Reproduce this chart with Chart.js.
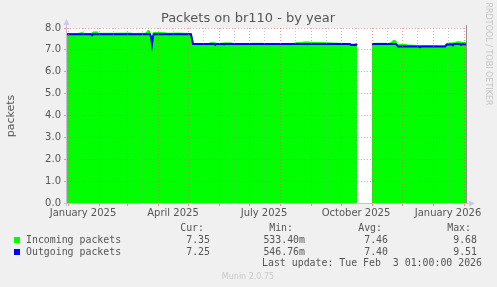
<!DOCTYPE html>
<html lang="en">
  <head>
    <meta charset="UTF-8" />
    <title>Packets on br110 - by year</title>
    <script src="https://cdn.jsdelivr.net/npm/chart.js"></script>
    <style>
      html, body { margin: 0; padding: 0; background: #f0f0f0; }
      #chart { display: block; }
    </style>
  </head>
  <body>
    <canvas id="chart" width="497" height="287"></canvas>
    <script>
      // x values are days since 1 January 2025
      const monthStarts = [0, 31, 59, 90, 120, 151, 181, 212, 243, 273, 304, 334, 365, 396];
      const midMonths = [15, 45, 74, 105, 135, 166, 196, 227, 258, 288, 319, 349, 380];
      const xLabels = { 15: "January 2025", 105: "April 2025", 196: "July 2025", 288: "October 2025", 380: "January 2026" };

      const inDays = [-1, 10, 14, 16, 24, 25, 29, 30, 45, 62, 65, 78, 80, 82, 83, 84, 85, 87, 97, 100, 110, 123, 125, 126,
        140, 143, 147, 148, 157, 164, 165, 187, 195, 196, 200, 225, 228, 233, 236, 240, 250, 255, 272, 275, 282, 288, 289, 290,
        304, 322, 324, 326, 328, 329, 331, 336, 340, 352, 376, 379, 383, 386, 389, 393, 395, 398];
      const inValues = [7.75, 7.75, 7.79, 7.75, 7.75, 7.82, 7.82, 7.76, 7.76, 7.77, 7.75, 7.76, 7.9, 7.82, 7.3, 7.55, 7.78, 7.8, 7.78, 7.76, 7.77, 7.75, 7.3, 7.28,
        7.28, 7.33, 7.33, 7.28, 7.32, 7.32, 7.28, 7.3, 7.3, 7.28, 7.28, 7.28, 7.33, 7.33, 7.36, 7.36, 7.33, 7.33, 7.3, 7.3, 7.25, 7.28, 7.28, null,
        7.3, 7.3, 7.38, 7.45, 7.4, 7.22, 7.25, 7.25, 7.22, 7.2, 7.18, 7.3, 7.32, 7.32, 7.37, 7.36, 7.33, 7.35];

      const outDays = [-1, 23, 24, 25, 82, 83, 84, 85, 86, 123, 125, 146, 147, 148, 155, 156, 157, 282, 283, 288, 289, 290,
        304, 328, 330, 351, 352, 353, 377, 379, 384, 385, 386, 392, 393, 395, 398];
      const outValues = [7.72, 7.72, 7.67, 7.72, 7.72, 7.6, 7.25, 7.6, 7.72, 7.72, 7.27, 7.27, 7.23, 7.27, 7.27, 7.25, 7.27, 7.27, 7.22, 7.22, 7.27, null,
        7.27, 7.27, 7.15, 7.15, 7.12, 7.15, 7.15, 7.25, 7.25, 7.21, 7.27, 7.27, 7.23, 7.27, 7.25];

      const yTicks = [0, 0.5, 1, 1.5, 2, 2.5, 3, 3.5, 4, 4.5, 5, 5.5, 6, 6.5, 7, 7.5, 8];

      const legendRows = [
        { label: "Incoming packets", color: "#00ff00", cur: "7.35", min: "533.40m", avg: "7.46", max: "9.68" },
        { label: "Outgoing packets", color: "#0000ff", cur: "7.25", min: "546.76m", avg: "7.40", max: "9.51" },
      ];

      const toPoints = (xs, ys) => xs.map((x, i) => ({ x, y: ys[i] }));

      const majorGrid = "rgba(235, 90, 90, 0.6)";
      const minorGrid = "rgba(150, 150, 150, 0.5)";

      const munin = {
        id: "munin",
        beforeDraw(chart) {
          const { ctx, chartArea: a } = chart;
          ctx.save();
          ctx.fillStyle = "#f0f0f0";
          ctx.fillRect(0, 0, chart.width, chart.height);
          ctx.fillStyle = "#ffffff";
          ctx.fillRect(a.left, a.top, a.right - a.left, a.bottom - a.top);
          ctx.restore();
        },
        afterDraw(chart) {
          const { ctx, chartArea: a } = chart;
          ctx.save();

          // right edge and axes
          ctx.strokeStyle = "#909090";
          ctx.lineWidth = 1;
          ctx.beginPath();
          ctx.moveTo(a.right + 0.5, a.top - 3);
          ctx.lineTo(a.right + 0.5, a.bottom);
          ctx.stroke();
          ctx.strokeStyle = "#c0c0d8";
          ctx.beginPath();
          ctx.moveTo(a.left - 0.5, a.top - 4);
          ctx.lineTo(a.left - 0.5, a.bottom + 3);
          ctx.moveTo(a.left - 3, a.bottom + 0.5);
          ctx.lineTo(a.right + 4, a.bottom + 0.5);
          ctx.stroke();
          ctx.fillStyle = "#c8c8f0";
          ctx.beginPath();
          ctx.moveTo(a.left - 3.5, a.top - 3);
          ctx.lineTo(a.left + 2.5, a.top - 3);
          ctx.lineTo(a.left - 0.5, a.top - 9);
          ctx.fill();
          ctx.beginPath();
          ctx.moveTo(a.right + 3, a.bottom - 2.5);
          ctx.lineTo(a.right + 3, a.bottom + 3.5);
          ctx.lineTo(a.right + 9, a.bottom + 0.5);
          ctx.fill();

          // title
          ctx.fillStyle = "#555555";
          ctx.font = "13px 'DejaVu Sans'";
          ctx.textAlign = "center";
          ctx.textBaseline = "middle";
          ctx.fillText("Packets on br110 - by year", 248, 19);

          // y axis title
          ctx.save();
          ctx.translate(11, 116);
          ctx.rotate(-Math.PI / 2);
          ctx.font = "11px 'DejaVu Sans'";
          ctx.fillText("packets", 0, 0);
          ctx.restore();

          // watermark
          ctx.save();
          ctx.translate(488, 54);
          ctx.rotate(Math.PI / 2);
          ctx.fillStyle = "#c4c4c4";
          ctx.font = "8px 'DejaVu Sans'";
          ctx.fillText("RRDTOOL / TOBI OETIKER", 0, 0);
          ctx.restore();

          // legend
          ctx.font = "9.9px 'DejaVu Sans Mono'";
          ctx.fillStyle = "#555555";
          ctx.textAlign = "right";
          ctx.fillText("Cur:", 204, 228);
          ctx.fillText("Min:", 293, 228);
          ctx.fillText("Avg:", 382, 228);
          ctx.fillText("Max:", 471, 228);
          legendRows.forEach((row, i) => {
            const y = 240 + i * 12;
            ctx.fillStyle = row.color;
            ctx.fillRect(14, y - 3, 6, 6);
            ctx.fillStyle = "#555555";
            ctx.textAlign = "left";
            ctx.fillText(row.label, 26, y);
            ctx.textAlign = "right";
            ctx.fillText(row.cur, 210, y);
            ctx.fillText(row.min, 305, y);
            ctx.fillText(row.avg, 388, y);
            ctx.fillText(row.max, 477, y);
          });
          ctx.fillText("Last update: Tue Feb  3 01:00:00 2026", 482, 263);

          ctx.textAlign = "center";
          ctx.fillStyle = "#c8c8c8";
          ctx.font = "8px 'DejaVu Sans'";
          ctx.fillText("Munin 2.0.75", 248, 277);
          ctx.restore();
        },
      };

      new Chart(document.getElementById("chart"), {
        type: "line",
        data: {
          datasets: [
            {
              label: "Incoming packets",
              data: toPoints(inDays, inValues),
              borderColor: "#00ff00",
              backgroundColor: "#00ff00",
              borderWidth: 1,
              fill: "origin",
              pointRadius: 0,
              spanGaps: false,
              order: 2,
            },
            {
              label: "Outgoing packets",
              data: toPoints(outDays, outValues),
              borderColor: "#0000ff",
              borderWidth: 2,
              fill: false,
              pointRadius: 0,
              spanGaps: false,
              order: 1,
            },
          ],
        },
        options: {
          responsive: false,
          animation: false,
          devicePixelRatio: 1,
          layout: { padding: { top: 28, right: 31, left: 0, bottom: 0 } },
          plugins: { legend: { display: false }, tooltip: { enabled: false } },
          scales: {
            x: {
              type: "linear",
              min: -1,
              max: 398,
              afterFit: (s) => { s.height = 84; },
              afterBuildTicks: (s) => {
                s.ticks = [...monthStarts, ...midMonths].sort((p, q) => p - q).map((v) => ({ value: v }));
              },
              border: { display: false, dash: [1, 2] },
              grid: {
                z: 1,
                color: (c) => (monthStarts.includes(c.tick && c.tick.value) ? majorGrid : minorGrid),
                tickColor: (c) => (monthStarts.includes(c.tick && c.tick.value) ? majorGrid : "rgba(0,0,0,0)"),
                tickLength: 3,
              },
              ticks: {
                autoSkip: false,
                maxRotation: 0,
                padding: 1,
                color: "#555555",
                font: { family: "DejaVu Sans", size: 10 },
                callback: (v) => xLabels[v] || "",
              },
            },
            y: {
              min: 0,
              max: 8,
              afterFit: (s) => { s.width = 67; },
              afterBuildTicks: (s) => {
                s.ticks = yTicks.map((v) => ({ value: v }));
              },
              border: { display: false, dash: [1, 2] },
              grid: {
                z: 1,
                color: (c) => (c.tick && Number.isInteger(c.tick.value) ? majorGrid : minorGrid),
                tickColor: (c) => (c.tick && Number.isInteger(c.tick.value) ? majorGrid : "rgba(0,0,0,0)"),
                tickLength: 3,
              },
              ticks: {
                padding: 3,
                color: "#555555",
                font: { family: "DejaVu Sans", size: 10 },
                callback: (v) => (Number.isInteger(v) ? v.toFixed(1) : ""),
              },
            },
          },
        },
        plugins: [munin],
      });
    </script>
  </body>
</html>
